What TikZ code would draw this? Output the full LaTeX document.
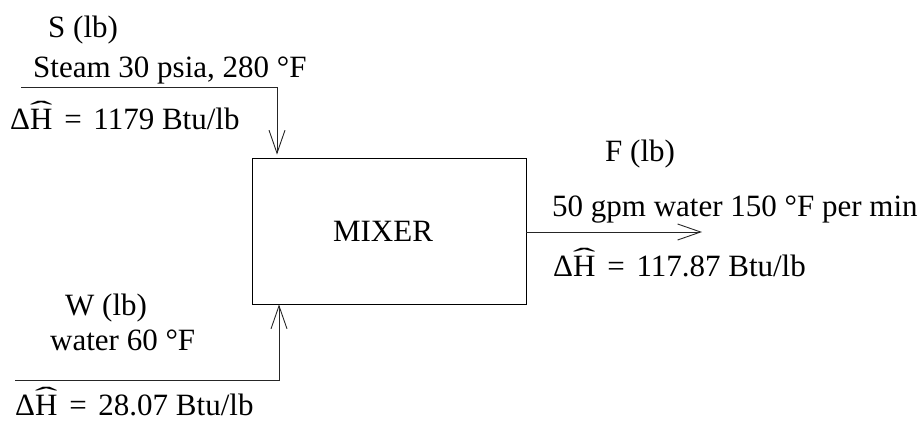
\documentclass[tikz,border=0pt]{standalone}
\usepackage{graphicx}
\usepackage{fontspec}
\setmainfont{Liberation Serif}
\usetikzlibrary{arrows.meta}
\newcommand\hatH{\leavevmode\setbox0\hbox{H}\rlap{\hbox to\wd0{\hss\raisebox{0.35em}{\scalebox{2.2}[0.8]{ˆ}}\hss}}H}
\newcommand\eqsp{\hspace{4pt} = \hspace{4pt}}
\begin{document}
\begin{tikzpicture}[x=1pt,y=-1pt,
  font=\fontsize{31}{36}\selectfont,
  lbl/.style={anchor=base west, inner sep=0pt},
  flow/.style={draw=black!85, line width=0.9pt, -{Straight Barb[length=23pt,width=16pt]}}]
\useasboundingbox (0,0) rectangle (923,421);
\node[draw, line width=0.9pt, minimum width=274pt, minimum height=146pt, inner sep=0pt] (mixer) at (389,231) {MIXER\hspace*{12pt}};
% steam
\node[lbl] (sname) at (48,37) {S (lb)};
\node[lbl] (sdesc) at (33,77) {Steam 30 psia, 280 °F};
\node[lbl] (sh) at (10,129) {Δ\hatH\eqsp 1179 Btu/lb};
\coordinate (s0) at (21,87);
\coordinate (s1) at (277,87);
\draw[flow, shorten >=3pt] (s0) -- (s1) -- (s1 |- mixer.north);
% water
\node[lbl] (wname) at (65,315) {W (lb)};
\node[lbl] (wdesc) at (50,350) {water 60 °F};
\node[lbl] (wh) at (15,415) {Δ\hatH\eqsp 28.07 Btu/lb};
\coordinate (w0) at (15,380);
\coordinate (w1) at (279,380);
\draw[flow] (w0) -- (w1) -- (w1 |- mixer.south);
% product
\node[lbl] (fname) at (605,161) {F (lb)};
\node[lbl] (fdesc) at (552,216) {50 gpm water 150 °F per min};
\node[lbl] (fh) at (553,276) {Δ\hatH\eqsp 117.87 Btu/lb};
\coordinate (f1) at (702,232);
\draw[flow] (mixer.east |- f1) -- (f1);
\end{tikzpicture}
\end{document}
